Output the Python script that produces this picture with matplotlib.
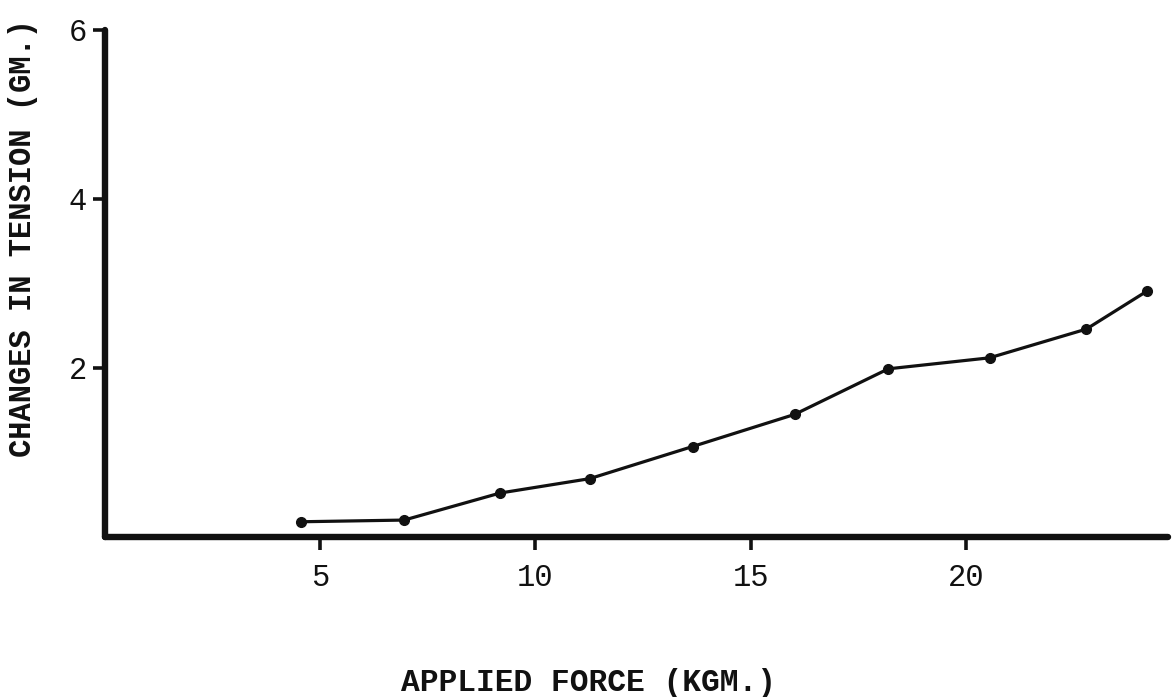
"""Typewritten lab chart: change in tension vs applied force."""
import matplotlib
matplotlib.use("Agg")
import matplotlib.pyplot as plt

# ---- data -------------------------------------------------------------------
force = [4.56, 6.95, 9.18, 11.26, 13.65, 16.02, 18.20, 20.55, 22.80, 24.21]
tension = [0.18, 0.20, 0.52, 0.69, 1.07, 1.45, 1.99, 2.12, 2.46, 2.91]
x_ticks = [5, 10, 15, 20]
y_ticks = [2, 4, 6]

INK = "#111111"
FONT = "Liberation Mono"

fig = plt.figure(figsize=(11.76, 6.97), dpi=100)
fig.patch.set_facecolor("white")
ax = fig.add_axes([0.0893, 0.2296, 0.904, 0.7274])

ax.plot(force, tension, color=INK, lw=2.3, marker="o", ms=7,
        mec=INK, mfc=INK, solid_capstyle="round", zorder=3)

ax.set_xlim(0.0, 24.7)
ax.set_ylim(0.0, 6.0)

for side in ("top", "right"):
    ax.spines[side].set_visible(False)
for side in ("left", "bottom"):
    ax.spines[side].set_linewidth(4.6)
    ax.spines[side].set_color(INK)
    ax.spines[side].set_capstyle("round")

ax.set_xticks(x_ticks)
ax.set_yticks(y_ticks)
ax.tick_params(axis="both", direction="out", color=INK, width=2.6,
               labelcolor=INK, labelsize=22)
ax.tick_params(axis="x", length=9, pad=10)
ax.tick_params(axis="y", length=9, pad=4)
for lab in ax.get_xticklabels() + ax.get_yticklabels():
    lab.set_fontfamily(FONT)

ax.set_xlabel("APPLIED FORCE (KGM.)", fontsize=22.5, family=FONT,
              fontweight="bold", color=INK)
ax.set_ylabel("CHANGES IN TENSION (GM.)", fontsize=22, family=FONT,
              fontweight="bold", color=INK)
ax.xaxis.set_label_coords(0.455, -0.258)
ax.yaxis.set_label_coords(-0.063, 0.59)

fig.savefig("out.png", dpi=100, facecolor="white")
